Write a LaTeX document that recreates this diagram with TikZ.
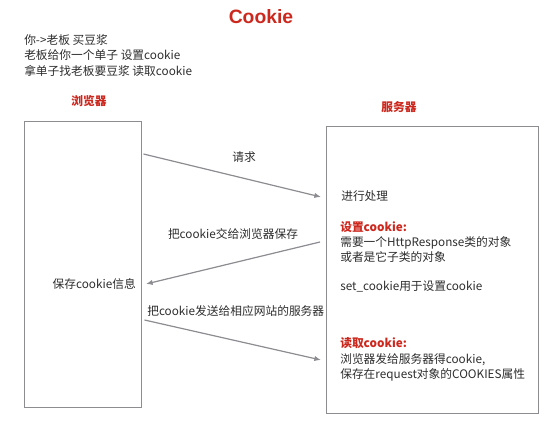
\documentclass[tikz,border=0pt]{standalone}
\usepackage{fontspec}
\setmainfont{Noto Sans CJK SC}
\newfontfamily\titlefont{Liberation Sans}
\usetikzlibrary{arrows.meta,positioning,calc}
\definecolor{cookiered}{RGB}{204,40,30}
\definecolor{linegray}{RGB}{140,140,145}
\definecolor{textgray}{RGB}{45,45,45}

\begin{document}
\begin{tikzpicture}[
  x=0.75pt,y=-0.75pt,
  every node/.style={inner sep=0pt,text=textgray,font=\fontsize{8.8}{11.6}\selectfont},
  side/.style={draw=linegray,line width=1.1pt,rectangle,anchor=north west},
  heading/.style={text=cookiered,font=\fontsize{8.8}{11}\selectfont\bfseries},
  note/.style={align=left,anchor=west},
  arrow/.style={-{Latex[length=5pt,width=4pt]},draw=linegray,line width=0.9pt}
]
\useasboundingbox (0,0) rectangle (554,423);
\node[font=\titlefont\fontsize{14.5}{16}\selectfont\bfseries,text=cookiered] (title) at (261,17) {Cookie};
\node[note] (story) at (24,55.5) {你->老板 买豆浆\\老板给你一个单子 设置cookie\\拿单子找老板要豆浆 读取cookie};

% the two sides
\node[heading] (browserlbl) at (89,101) {浏览器};
\node[heading] (serverlbl) at (399,107) {服务器};
\node[side,minimum width=117*0.75pt,minimum height=286*0.75pt] (browser) at (24,121) {};
\node[side,minimum width=212*0.75pt,minimum height=287*0.75pt] (server) at (326,126) {};

% texts in the boxes
\node[note,anchor=east] (store) at (136,284) {保存cookie信息};
\node[note] (proc) at (341,196) {进行处理};
\node[note] (setck) at (340,242) {{\color{cookiered}\bfseries 设置cookie:}\\需要一个HttpResponse类的对象\\或者是它子类的对象};
\node[note] (setfn) at (340,287) {set\_cookie用于设置cookie};
\node[note] (getck) at (340,359.5) {{\color{cookiered}\bfseries 读取cookie:}\\浏览器发给服务器得cookie,\\保存在request对象的COOKIES属性};

% messages
\coordinate (reqstart) at ($(browser.north east)+(1,33)$);
\coordinate (reqend) at ($(server.west |- proc)+(-5,1)$);
\coordinate (respstart) at ($(server.west |- setck)+(-6,0)$);
\coordinate (respend) at ($(store.east)+(10,0)$);
\coordinate (sendstart) at ($(browser.north east)+(2,199)$);
\coordinate (sendend) at ($(server.west |- getck)+(-5,0.5)$);
\draw[arrow] (reqstart) -- (reqend);
\draw[arrow] (respstart) -- (respend);
\draw[arrow] (sendstart) -- (sendend);
\node (reqlbl) at (244,157) {请求};
\node (resplbl) at (233,234) {把cookie交给浏览器保存};
\node[anchor=west] (sendlbl) at (147,311) {把cookie发送给相应网站的服务器};
\end{tikzpicture}
\end{document}
